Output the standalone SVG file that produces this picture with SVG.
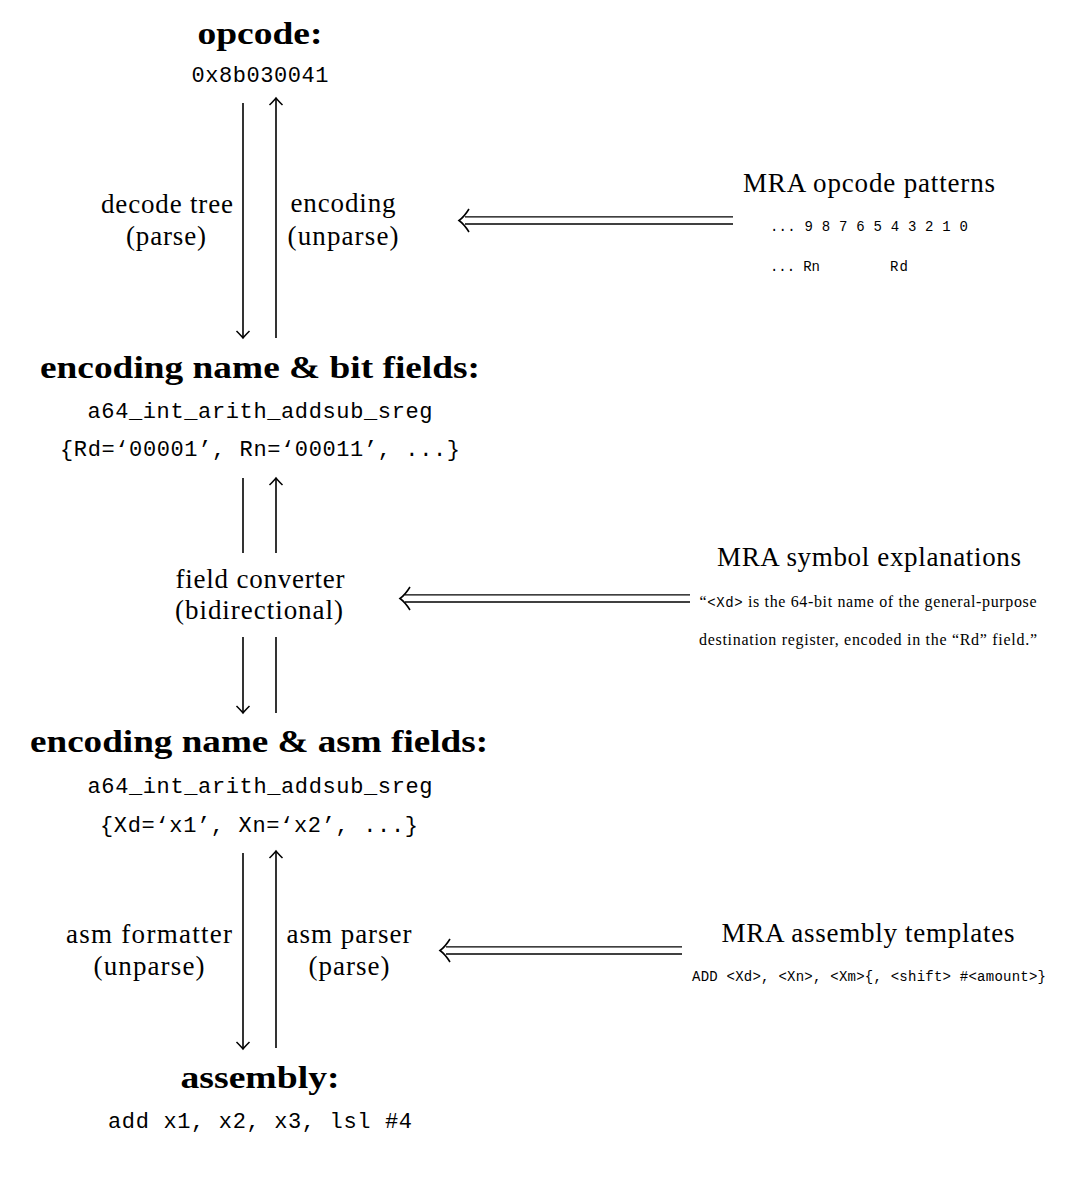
<svg xmlns="http://www.w3.org/2000/svg" xmlns:xlink="http://www.w3.org/1999/xlink" width="1071" height="1187" viewBox="0 0 1071 1187">
<style>
.h{font-family:"Liberation Serif",serif;font-weight:bold;font-size:32px;text-anchor:middle;fill:#000}
.r{font-family:"Liberation Serif",serif;font-size:27px;text-anchor:middle;fill:#000}
.s{font-family:"Liberation Serif",serif;font-size:16px;text-anchor:middle;fill:#000}
.m{font-family:"Liberation Mono",monospace;font-size:22px;text-anchor:middle;fill:#000}
.ms{font-family:"Liberation Mono",monospace;font-size:14px;fill:#000}
.ln{stroke:#000;stroke-width:1.6;fill:none}
.dl{stroke:#000;stroke-width:1.3;fill:none}
</style>
<defs>
<marker id="ah" markerUnits="userSpaceOnUse" viewBox="-10 -8 12 16" refX="0" refY="0" markerWidth="12" markerHeight="16" orient="auto" overflow="visible">
<path d="M -7 -6.5 Q -2 -1.5 0 0 Q -2 1.5 -7 6.5" stroke="#000" stroke-width="1.5" fill="none"/>
</marker>
<path id="dh" d="M 469 209 Q 464 217 459 220.5 Q 464 224 469 232" stroke="#000" stroke-width="1.6" fill="none"/>
</defs>

<g id="connectors">
<line class="ln" x1="243" y1="103" x2="243" y2="338" marker-end="url(#ah)"/>
<line class="ln" x1="276" y1="338" x2="276" y2="98" marker-end="url(#ah)"/>
<line class="ln" x1="243" y1="478" x2="243" y2="553"/>
<line class="ln" x1="276" y1="553" x2="276" y2="478" marker-end="url(#ah)"/>
<line class="ln" x1="243" y1="637" x2="243" y2="713" marker-end="url(#ah)"/>
<line class="ln" x1="276" y1="713" x2="276" y2="637"/>
<line class="ln" x1="243" y1="853" x2="243" y2="1049" marker-end="url(#ah)"/>
<line class="ln" x1="276" y1="1048" x2="276" y2="851" marker-end="url(#ah)"/>
<g id="dbl1">
<line class="dl" x1="465" y1="216.8" x2="733" y2="216.8"/>
<line class="dl" x1="465" y1="224" x2="733" y2="224"/>
<use xlink:href="#dh"/>
</g>
<g id="dbl2">
<line class="dl" x1="405" y1="594.8" x2="690" y2="594.8"/>
<line class="dl" x1="405" y1="602" x2="690" y2="602"/>
<use xlink:href="#dh" transform="translate(-59,378)"/>
</g>
<g id="dbl3">
<line class="dl" x1="446" y1="946.8" x2="682" y2="946.8"/>
<line class="dl" x1="446" y1="954" x2="682" y2="954"/>
<use xlink:href="#dh" transform="translate(-19,730)"/>
</g>
</g>

<g id="opcode">
<text class="h" x="260" y="44" textLength="125" lengthAdjust="spacingAndGlyphs">opcode:</text>
<text class="m" x="260" y="82" textLength="137">0x8b030041</text>
</g>
<g id="decode-label">
<text class="r" x="167" y="213" textLength="132">decode tree</text>
<text class="r" x="166" y="245" textLength="80">(parse)</text>
</g>
<g id="encoding-label">
<text class="r" x="343" y="212" textLength="105">encoding</text>
<text class="r" x="343" y="245" textLength="111">(unparse)</text>
</g>
<g id="mra-opcode">
<text class="r" x="869" y="192" textLength="252">MRA opcode patterns</text>
<text class="ms" x="770" y="231" textLength="198">... 9 8 7 6 5 4 3 2 1 0</text>
<text class="ms" x="770" y="271" textLength="50">... Rn</text>
<text class="ms" x="890" y="271" textLength="18">Rd</text>
</g>
<g id="bit-fields">
<text class="h" x="260" y="378" textLength="440" lengthAdjust="spacingAndGlyphs">encoding name &amp; bit fields:</text>
<text class="m" x="260" y="418" textLength="345">a64_int_arith_addsub_sreg</text>
<text class="m" x="260" y="456" textLength="400">{Rd=‘00001’, Rn=‘00011’, ...}</text>
</g>
<g id="field-converter">
<text class="r" x="260" y="588" textLength="169">field converter</text>
<text class="r" x="259" y="619" textLength="168">(bidirectional)</text>
</g>
<g id="mra-symbol">
<text class="r" x="869" y="566" textLength="304">MRA symbol explanations</text>
<text class="s" x="868" y="607" textLength="337">“<tspan font-family="Liberation Mono, monospace" font-size="14">&lt;Xd&gt;</tspan> is the 64-bit name of the general-purpose</text>
<text class="s" x="868" y="645" textLength="338">destination register, encoded in the “Rd” field.”</text>
</g>
<g id="asm-fields">
<text class="h" x="259" y="752" textLength="458" lengthAdjust="spacingAndGlyphs">encoding name &amp; asm fields:</text>
<text class="m" x="260" y="793" textLength="345">a64_int_arith_addsub_sreg</text>
<text class="m" x="259" y="832" textLength="318">{Xd=‘x1’, Xn=‘x2’, ...}</text>
</g>
<g id="formatter-label">
<text class="r" x="149" y="943" textLength="166">asm formatter</text>
<text class="r" x="149" y="975" textLength="111">(unparse)</text>
</g>
<g id="parser-label">
<text class="r" x="349" y="943" textLength="125">asm parser</text>
<text class="r" x="349" y="975" textLength="81">(parse)</text>
</g>
<g id="mra-asm">
<text class="r" x="868" y="942" textLength="293">MRA assembly templates</text>
<text class="ms" x="869" y="981" text-anchor="middle" textLength="354">ADD &lt;Xd&gt;, &lt;Xn&gt;, &lt;Xm&gt;{, &lt;shift&gt; #&lt;amount&gt;}</text>
</g>
<g id="assembly">
<text class="h" x="260" y="1088" textLength="159" lengthAdjust="spacingAndGlyphs">assembly:</text>
<text class="m" x="260" y="1128" textLength="304">add x1, x2, x3, lsl #4</text>
</g>
</svg>
